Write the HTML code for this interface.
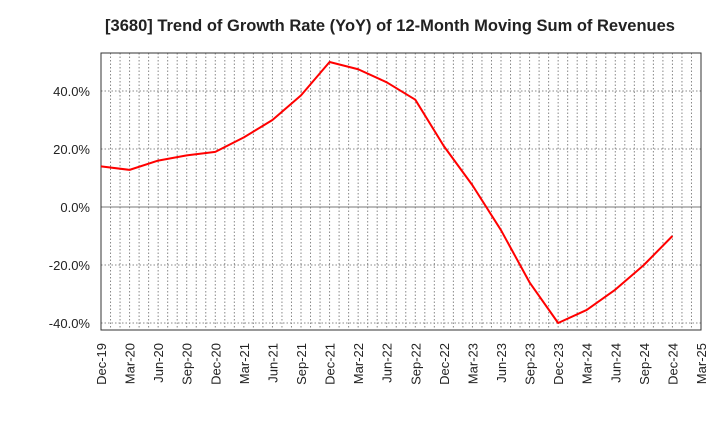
<!DOCTYPE html>
<html><head><meta charset="utf-8"><style>
body{margin:0;background:#fff;font-family:"Liberation Sans",Arial,sans-serif}
svg text{font-family:"Liberation Sans",Arial,sans-serif}
</style></head><body>
<svg id="c" width="720" height="440">
<text x="390" y="31" text-anchor="middle" font-size="16.5" font-weight="bold" fill="#222">[3680]  Trend of Growth Rate (YoY) of 12-Month Moving Sum of Revenues</text>
<g id="grid"></g><g id="axes"></g><g id="series"></g>
</svg>
<script>
const categories=["Dec-19","Mar-20","Jun-20","Sep-20","Dec-20","Mar-21","Jun-21","Sep-21","Dec-21","Mar-22","Jun-22","Sep-22","Dec-22","Mar-23","Jun-23","Sep-23","Dec-23","Mar-24","Jun-24","Sep-24","Dec-24","Mar-25"];
const values=[14,12.8,16,17.8,19,24,30,38.5,50,47.5,43,37,21,7.5,-8,-26,-40,-35.5,-28.5,-20,-10];
const yTicks=[-40,-20,0,20,40];
const NS="http://www.w3.org/2000/svg";
const L=101,R=701,T=53,B=330;
const x=i=>L+(R-L)*i/(categories.length-1);
const y=v=>207-v*2.9;
function mk(tag,attrs,parent){const e=document.createElementNS(NS,tag);for(const k in attrs)e.setAttribute(k,attrs[k]);parent.appendChild(e);return e;}
const grid=document.getElementById('grid'),axes=document.getElementById('axes'),series=document.getElementById('series');
for(let m=1;m<(categories.length-1)*3;m++){const xx=L+(R-L)*m/((categories.length-1)*3);
const g=mk('line',{x1:xx,x2:xx,y1:T,y2:B,stroke:'#888','stroke-dasharray':'1.5,2','stroke-width':1},grid);

}
yTicks.forEach(v=>{
const g=mk('line',{x1:L,x2:R,y1:y(v),y2:y(v),stroke:v===0?'#777':'#888','stroke-dasharray':v===0?'':'1.5,2','stroke-width':1},grid);


const t=mk('text',{x:L-11,y:y(v)+5,'text-anchor':'end','font-size':13,fill:'#222'},axes);
t.textContent=v.toFixed(1)+'%';


});
const fr=mk('rect',{x:L,y:T,width:R-L,height:B-T,fill:'none',stroke:'#333'},axes);


categories.forEach((c,i)=>{
const t=mk('text',{transform:`translate(${x(i)+5},${B+13}) rotate(-90)`,'text-anchor':'end','font-size':13,fill:'#222'},axes);
t.textContent=c;


});
const p=mk('polyline',{points:values.map((v,i)=>x(i)+','+y(v)).join(' '),fill:'none',stroke:'#f00','stroke-width':2,'stroke-linejoin':'round'},series);


</script>
</body></html>
